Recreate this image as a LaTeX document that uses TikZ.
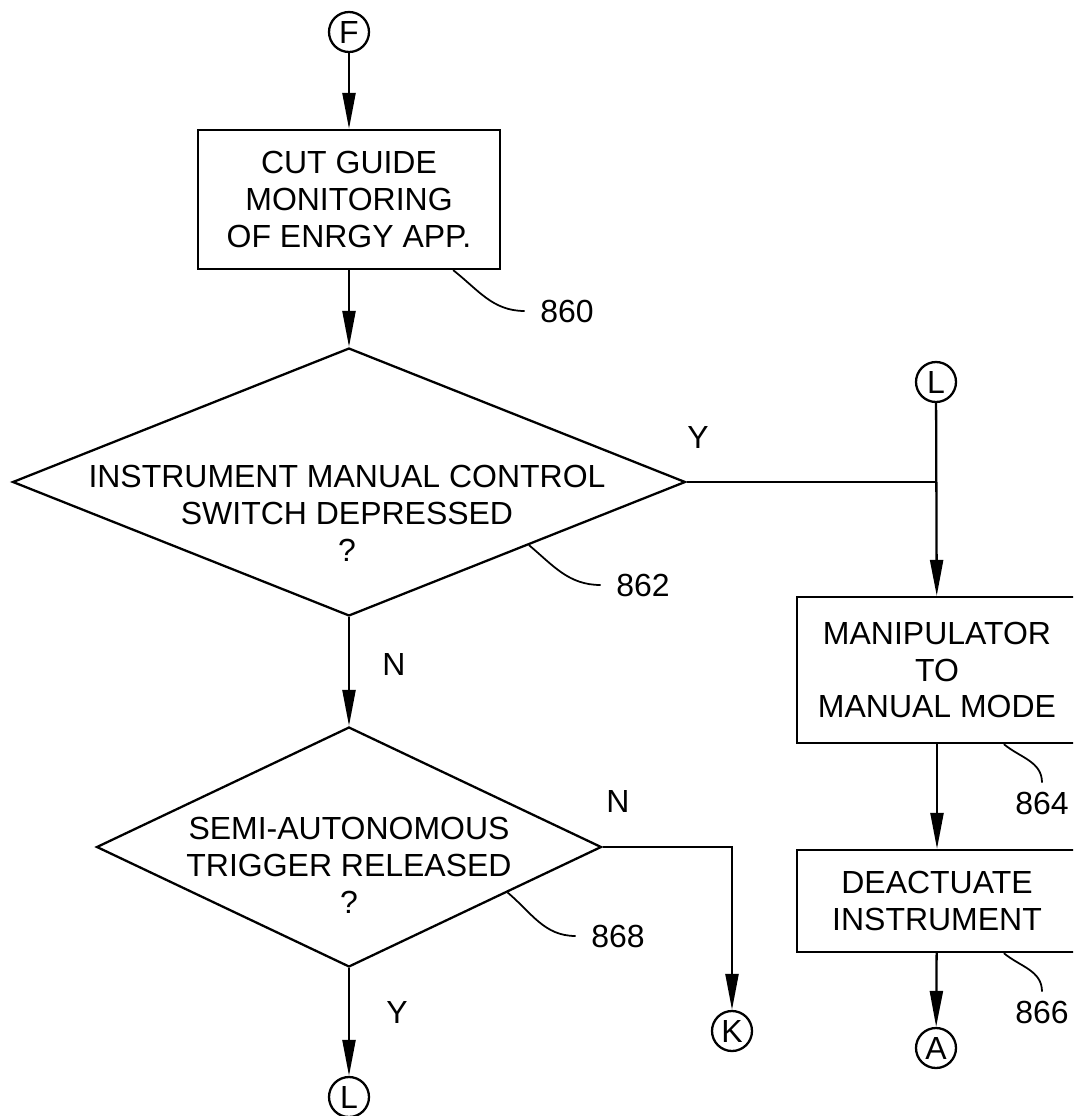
\documentclass[tikz,border=0pt]{standalone}
\usepackage{fontspec}
\setmainfont{Liberation Sans}
\usetikzlibrary{shapes.geometric, arrows.meta, positioning, calc}

\begin{document}
\begin{tikzpicture}[
    x=0.02cm, y=-0.02cm,
    line width=1.3pt,
    txt/.style = {font=\fontsize{18.2}{21}\selectfont, inner sep=0pt},
    box/.style = {
        rectangle,
        draw,
        txt,
        align=center
    },
    dec/.style = {diamond, draw, inner sep=0pt},
    conn/.style = {circle, draw, txt, minimum size=0.8cm},
    refnum/.style = {txt},
    arrow/.style = {-{Triangle[length=0.72cm, width=0.26cm]}},
    lead/.style = {line width=1pt}
]
\useasboundingbox (0,0) rectangle (1073,1116);
\clip (0,0) rectangle (1073,1116);

%% Left column
\node[conn] (f) at (349,32) {F};

\node[box, minimum width=6.04cm, minimum height=2.78cm] (b860) at (349,199.5) {
    CUT GUIDE\\
    MONITORING\\
    OF ENRGY APP.
};

\node[dec, minimum width=13.46cm, minimum height=5.36cm] (d862) at (349,482) {};
\node[txt, align=center] (t862) at (347,513) {
    INSTRUMENT MANUAL CONTROL\\
    SWITCH DEPRESSED\\
    ?
};

\node[dec, minimum width=10.1cm, minimum height=4.8cm] (d868) at (349,847) {};
\node[txt, align=center] (t868) at (349,865) {
    SEMI-AUTONOMOUS\\
    TRIGGER RELEASED\\
    ?
};

\node[conn] (lout) at (349,1097) {L};
\node[conn] (k) at (732,1031) {K};

%% Right column
\node[conn] (lin) at (936,382) {L};

\node[box, minimum width=5.6cm, minimum height=2.92cm] (b864) at (937,670) {
    MANIPULATOR\\
    TO\\
    MANUAL MODE
};

\node[box, minimum width=5.6cm, minimum height=2.04cm] (b866) at (937,901) {
    DEACTUATE\\
    INSTRUMENT
};

\node[conn] (a) at (936,1048) {A};

%% Branch letters
\node[txt] (y862) at (698,437) {Y};
\node[txt] (n862) at (394,664) {N};
\node[txt] (n868) at (618,801) {N};
\node[txt] (y868) at (397,1012) {Y};

%% Reference numerals
\node[refnum] (l860) at (567,311) {860};
\node[refnum] (l862) at (643,585) {862};
\node[refnum] (l864) at (1042,803) {864};
\node[refnum] (l866) at (1042,1012) {866};
\node[refnum] (l868) at (618,936) {868};

%% Flow lines
\draw[arrow] (f) -- (b860);
\draw[arrow] (b860) -- (d862.north);
\draw[arrow] (d862.south) -- (d868.north);
\draw[arrow] (d868.south) -- (lout);
\draw[arrow] (d868.east) -| (k);
\draw (d862.east) -- (d862.east -| lin);
\draw[arrow] (lin) -- (b864);
\draw[arrow] (b864) -- (b866);
\draw[arrow] (b866) -- (a);

%% Leaders
\draw[lead] ([xshift=-0.96cm]b860.south east) to[out=-38, in=180] ([xshift=-0.29cm]l860.west);
\draw[lead] ($(d862.east)!0.467!(d862.south)$) to[out=-40, in=180] ([xshift=-0.29cm]l862.west);
\draw[lead] ($(d868.east)!0.375!(d868.south)$) to[out=-40, in=180] ([xshift=-0.29cm]l868.west);
\draw[lead] ([xshift=4.16cm]b864.south west) to[out=-40, in=90] ([yshift=0.16cm]l864.north);
\draw[lead] ([xshift=4.16cm]b866.south west) to[out=-40, in=90] ([yshift=0.16cm]l866.north);

\end{tikzpicture}
\end{document}
